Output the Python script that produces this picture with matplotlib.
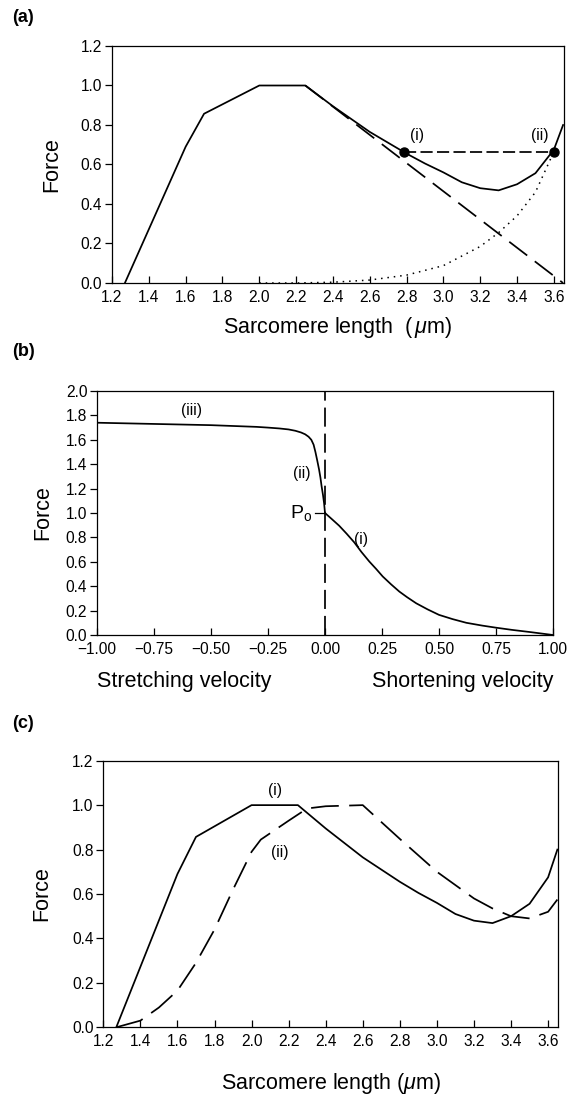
import numpy as np
import matplotlib
matplotlib.use('Agg')
import matplotlib.pyplot as plt

plt.rcParams['font.family'] = ['Liberation Sans', 'DejaVu Sans']
plt.rcParams['mathtext.fontset'] = 'custom'
plt.rcParams['mathtext.rm'] = 'Liberation Sans'
plt.rcParams['mathtext.it'] = 'Liberation Sans:italic'

# (a)/(c) curve (i): total force vs sarcomere length
len_i = [1.27, 1.6, 1.7, 2.0, 2.25, 2.4, 2.6, 2.8, 2.9, 3.0, 3.1, 3.2, 3.3, 3.4, 3.5, 3.6, 3.65]
force_i = [0.0, 0.69, 0.857, 1.0, 1.0, 0.895, 0.765, 0.655, 0.605, 0.56, 0.51, 0.48, 0.469, 0.5, 0.556, 0.675, 0.8]

# (a) active descending limb (dashed) and passive force (dotted)
len_act = [2.25, 3.65]
force_act = [1.0, 0.0]
len_pas = [2.0, 2.2, 2.4, 2.6, 2.8, 3.0, 3.2, 3.3, 3.4, 3.5, 3.6]
force_pas = [0.0, 0.0, 0.004, 0.015, 0.04, 0.088, 0.185, 0.255, 0.34, 0.46, 0.665]

# (a) equal-force points (i) and (ii)
len_pts = [2.786, 3.6]
force_pts = [0.665, 0.665]

# (b) force-velocity curve (negative = stretching, positive = shortening)
vel = [-1.0, -0.75, -0.5, -0.3, -0.25, -0.2, -0.16, -0.13, -0.105, -0.087, -0.072, -0.06, -0.05,
       -0.042, -0.034, -0.026, -0.02, -0.015, -0.009, -0.004, 0.0,
       0.03, 0.062, 0.095, 0.128, 0.16, 0.194, 0.225, 0.253, 0.29, 0.326, 0.36, 0.4, 0.45, 0.5,
       0.56, 0.62, 0.69, 0.75, 0.82, 0.9, 1.0]
force_v = [1.74, 1.73, 1.72, 1.706, 1.70, 1.693, 1.685, 1.674, 1.66, 1.645, 1.625, 1.6, 1.56,
           1.5, 1.43, 1.356, 1.29, 1.22, 1.15, 1.08, 1.0,
           0.95, 0.896, 0.83, 0.76, 0.68, 0.603, 0.54, 0.48, 0.415, 0.356, 0.31, 0.26, 0.21, 0.165,
           0.13, 0.1, 0.077, 0.06, 0.042, 0.024, 0.0]

# (c) curve (ii): shifted length-tension curve
len_ii = [1.27, 1.4, 1.5, 1.6, 1.7, 1.8, 1.9, 2.0, 2.05, 2.2, 2.3, 2.4, 2.6, 2.8, 3.0, 3.1, 3.2,
          3.3, 3.4, 3.5, 3.6, 3.65]
force_ii = [0.0, 0.03, 0.089, 0.165, 0.29, 0.44, 0.62, 0.79, 0.845, 0.93, 0.985, 0.995, 1.0, 0.848,
            0.7, 0.64, 0.58, 0.535, 0.5, 0.49, 0.52, 0.575]

len_ticks = np.arange(1.2, 3.61, 0.2)
vel_ticks = np.arange(-1.0, 1.01, 0.25)

W, H = 579, 1096
fig = plt.figure(figsize=(W / 100, H / 100), dpi=100)

tick_fs = 11.2
label_fs = 15.5
lw = 1.25


def rect(l, t, r, b):
    return [l / W, 1 - b / H, (r - l) / W, (b - t) / H]


def style(ax):
    for s in ax.spines.values():
        s.set_linewidth(0.9)
    ax.tick_params(axis='x', direction='in', length=5, width=0.9, labelsize=tick_fs, pad=5,
                   top=False)
    ax.tick_params(axis='y', direction='out', length=5, width=0.9, labelsize=tick_fs, pad=2,
                   right=False)


# ---- (a) ----
ax1 = fig.add_axes(rect(112, 46, 564, 283))
ax1.plot(len_i, force_i, color='black', lw=lw)
ax1.plot(len_act, force_act, color='black', lw=lw, dashes=(13, 5.5))
ax1.plot(len_pas, force_pas, color='black', lw=1.1, linestyle=(0, (1, 3.2)))
ax1.plot(len_pts, force_pts, color='black', lw=lw, dashes=(7, 2.5), marker='o', markersize=6.5)
ax1.text(2.856, 0.745, '(i)', ha='center', va='center', fontsize=tick_fs)
ax1.text(3.525, 0.745, '(ii)', ha='center', va='center', fontsize=tick_fs)
ax1.set_xlim(1.2, 3.655)
ax1.set_ylim(0, 1.2)
ax1.set_xticks(len_ticks)
ax1.set_xticklabels(['%.1f' % t for t in len_ticks])
ax1.set_yticks(np.arange(0, 1.21, 0.2))
ax1.set_yticklabels(['%.1f' % t for t in np.arange(0, 1.21, 0.2)])
style(ax1)
ax1.text(0.5, -(328 - 283) / 237, 'Sarcomere length  ($\\,\\mu$m)', transform=ax1.transAxes,
         ha='center', va='center', fontsize=label_fs)
ax1.text(-0.133, 0.5, 'Force', transform=ax1.transAxes, rotation=90,
         ha='center', va='center', fontsize=label_fs)

# ---- (b) ----
ax2 = fig.add_axes(rect(97, 391, 553, 635))
ax2.plot(vel, force_v, color='black', lw=lw)
ax2.plot([0, 0], [0, 2.0], color='black', lw=lw, dashes=(11, 4))
ax2.plot([-0.043, 0], [1.0, 1.0], color='black', lw=0.9)
ax2.text(-0.103, 1.0, 'P$_\\mathrm{o}$', ha='center', va='center', fontsize=14)
ax2.text(-0.584, 1.837, '(iii)', ha='center', va='center', fontsize=tick_fs)
ax2.text(-0.103, 1.32, '(ii)', ha='center', va='center', fontsize=tick_fs)
ax2.text(0.159, 0.78, '(i)', ha='center', va='center', fontsize=tick_fs)
ax2.set_xlim(-1.0, 1.0)
ax2.set_ylim(0, 2.0)
ax2.set_xticks(vel_ticks)
ax2.set_xticklabels(['%.2f' % t if t >= 0 else '\u2212%.2f' % -t for t in vel_ticks])
ax2.set_yticks(np.arange(0, 2.01, 0.2))
ax2.set_yticklabels(['%.1f' % t for t in np.arange(0, 2.01, 0.2)])
style(ax2)
ax2.text(0.0, -0.189, 'Stretching velocity', transform=ax2.transAxes,
         ha='left', va='center', fontsize=label_fs)
ax2.text(1.0, -0.189, 'Shortening velocity', transform=ax2.transAxes,
         ha='right', va='center', fontsize=label_fs)
ax2.text(-0.118, 0.5, 'Force', transform=ax2.transAxes, rotation=90,
         ha='center', va='center', fontsize=label_fs)

# ---- (c) ----
ax3 = fig.add_axes(rect(103.3, 760.7, 558.3, 1027.3))
ax3.plot(len_i, force_i, color='black', lw=lw)
ax3.plot(len_ii, force_ii, color='black', lw=lw, dashes=(16, 6))
ax3.text(2.126, 1.068, '(i)', ha='center', va='center', fontsize=tick_fs)
ax3.text(2.152, 0.785, '(ii)', ha='center', va='center', fontsize=tick_fs)
ax3.set_xlim(1.2, 3.655)
ax3.set_ylim(0, 1.2)
ax3.set_xticks(len_ticks)
ax3.set_xticklabels(['%.1f' % t for t in len_ticks])
ax3.set_yticks(np.arange(0, 1.21, 0.2))
ax3.set_yticklabels(['%.1f' % t for t in np.arange(0, 1.21, 0.2)])
style(ax3)
ax3.text(0.5, -0.209, 'Sarcomere length ($\\mu$m)', transform=ax3.transAxes,
         ha='center', va='center', fontsize=label_fs)
ax3.text(-0.135, 0.5, 'Force', transform=ax3.transAxes, rotation=90,
         ha='center', va='center', fontsize=label_fs)

# panel letters
for lab, y in [('(a)', 17), ('(b)', 352), ('(c)', 723)]:
    fig.text(12 / W, 1 - y / H, lab, ha='left', va='center', fontsize=13, fontweight='bold')

fig.savefig('out.png', dpi=100)
plt.close(fig)
